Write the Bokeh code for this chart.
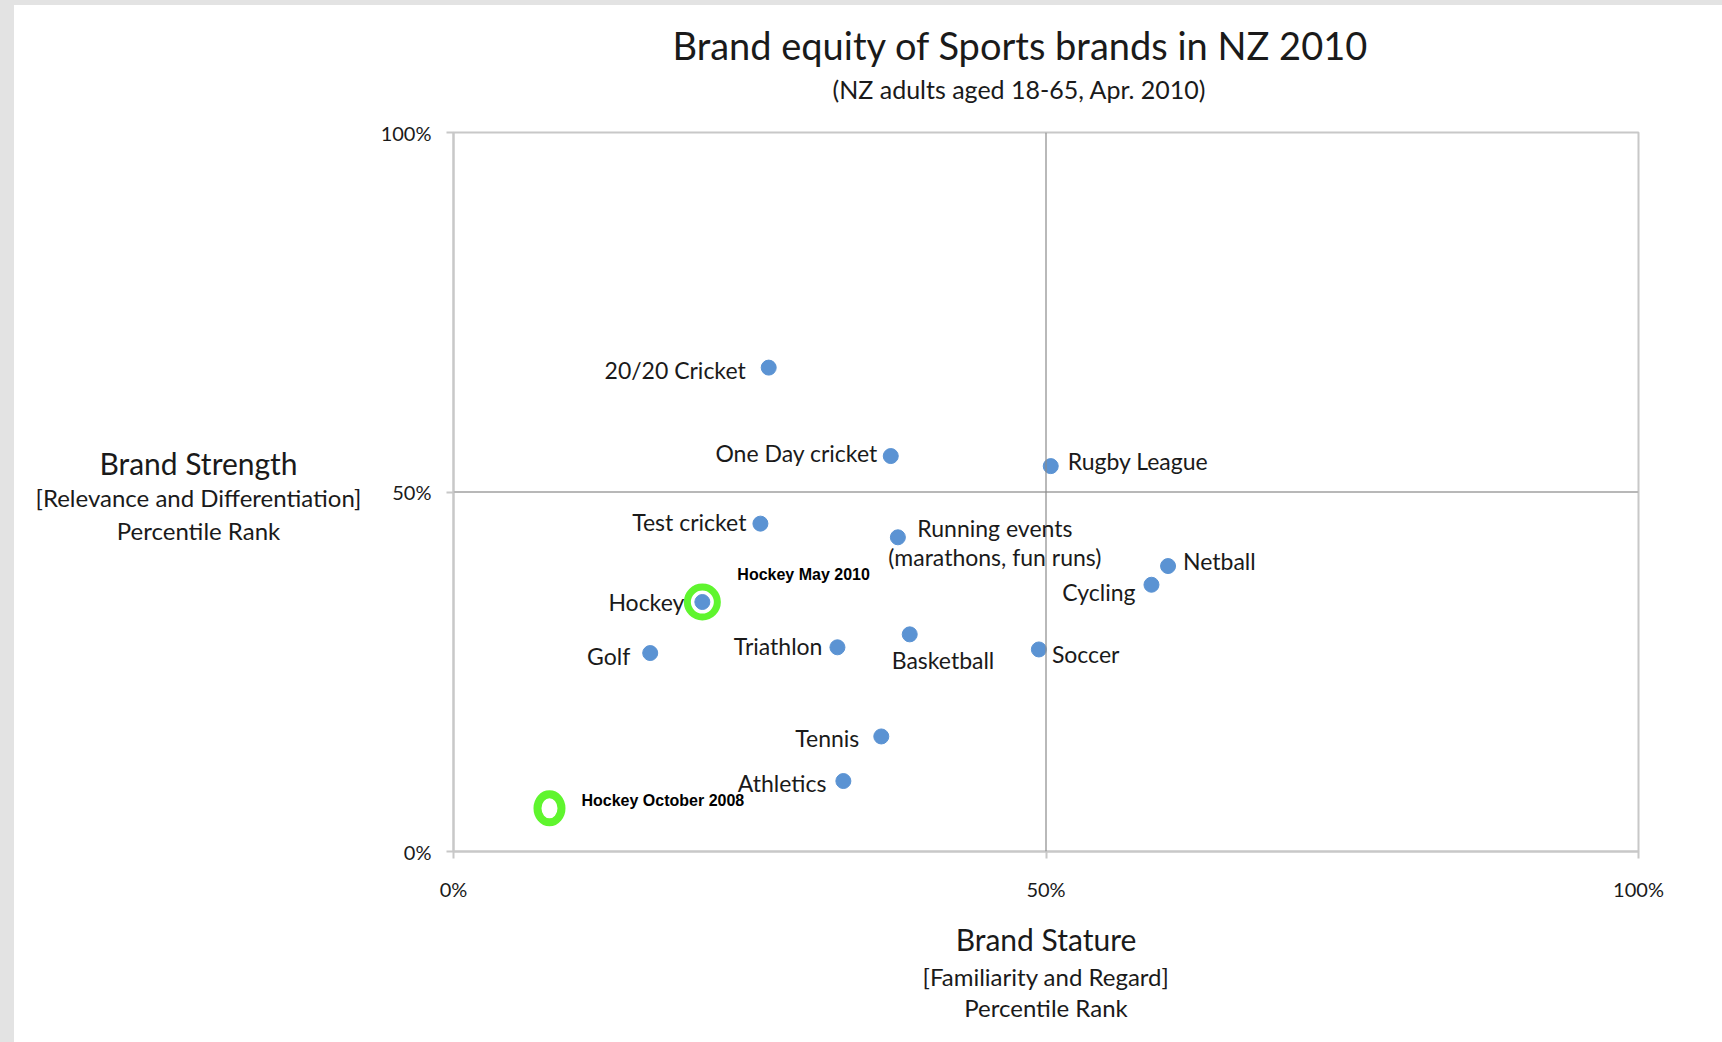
from bokeh.plotting import figure
from bokeh.layouts import row
from bokeh.models import (ColumnDataSource, LabelSet, Span, Range1d,
                          FixedTicker, Title)
from bokeh.core.properties import value
from bokeh.embed import file_html
from bokeh.resources import INLINE

# ---------------- data ----------------
sports = ["20/20 Cricket", "One Day cricket", "Rugby League", "Test cricket",
          "Running events\n(marathons, fun runs)", "Netball", "Cycling",
          "Hockey", "Basketball", "Triathlon", "Soccer", "Golf", "Tennis",
          "Athletics"]
stature = [26.6, 36.9, 50.4, 25.9, 37.5, 60.3, 58.9, 21.0, 38.5, 32.4,
           49.4, 16.6, 36.1, 32.9]
strength = [67.3, 55.0, 53.6, 45.6, 43.7, 39.7, 37.1, 34.7, 30.2, 28.4,
            28.1, 27.6, 16.0, 9.8]

hockey_labels = ["Hockey May 2010", "Hockey October 2008"]
hockey_stature = [21.0, 8.1]
hockey_strength = [34.7, 6.0]

tick_values = [0, 50, 100]
tick_labels = ["0%", "50%", "100%"]

title_text = "Brand equity of Sports brands in NZ 2010"
subtitle_text = "(NZ adults aged 18-65, Apr. 2010)"
y_title = ["Brand Strength", "[Relevance and Differentiation]", "Percentile Rank"]
x_title = ["Brand Stature", "[Familiarity and Regard]", "Percentile Rank"]

# ---------------- label placement (style, pixels; dy = downwards) --------
label_dx = [-23, -13, 17, -14, 97, 15, -16, -18, -18, -15, 13, -20, -22, -17]
label_dy = [2, -3, -5, -2, 5, -5, 7, 0, 26, -1, 5, 3, 2, 2]
label_align = ["right", "right", "left", "right", "center", "left", "right",
               "right", "left", "right", "left", "right", "right", "right"]
LINE_H = 29

W, H = 1708, 1037            # page minus the grey strips (left 14, top 5)
WL = 350                     # width of the side panel holding the y title
LEFT, RIGHT, TOP, BOTTOM = 439 - WL, 84, 127, 191
FH = H - TOP - BOTTOM

FONT = "Lato"
TXT = "#1a1a1a"
BLUE = "#5b93d3"
GREEN = "#5ff52e"

# ---------------- side panel with the y title ----------------
# (its frame is aligned with the main frame by the row layout)
side = figure(width=WL, height=H, output_backend="svg", toolbar_location=None,
              x_range=Range1d(0, WL), y_range=Range1d(TOP + FH, TOP),
              x_axis_type=None, y_axis_type=None,
              min_border=0, min_border_left=0, min_border_right=0,
              min_border_top=TOP, min_border_bottom=BOTTOM)
side.outline_line_color = None
side.background_fill_color = "white"
side.border_fill_color = "white"
side.xgrid.grid_line_color = None
side.ygrid.grid_line_color = None
for txt, size, cy in zip(y_title, ["30px", "24px", "24px"], [457, 492, 525]):
    side.text(x=[184], y=[cy], text=[txt], text_font=value(FONT),
              text_font_size=value(size), text_align="center",
              text_baseline="middle", text_color=TXT)

# ---------------- main chart ----------------
p = figure(width=W - WL, height=H, output_backend="svg",
           toolbar_location=None,
           x_range=Range1d(0, 100), y_range=Range1d(0, 100),
           min_border_left=LEFT, min_border_right=RIGHT,
           min_border_top=TOP, min_border_bottom=BOTTOM)
p.background_fill_color = "white"
p.border_fill_color = "white"
p.outline_line_color = "#c8c8c8"
p.outline_line_width = 2
p.xgrid.grid_line_color = None
p.ygrid.grid_line_color = None

for ax in (p.xaxis[0], p.yaxis[0]):
    ax.ticker = FixedTicker(ticks=tick_values)
    ax.major_label_overrides = {v: l for v, l in zip(tick_values, tick_labels)}
    ax.axis_line_color = "#c8c8c8"
    ax.axis_line_width = 2
    ax.major_tick_line_color = "#c8c8c8"
    ax.major_tick_line_width = 2
    ax.major_tick_in = 0
    ax.major_tick_out = 7
    ax.minor_tick_line_color = None
    ax.major_label_text_font = FONT
    ax.major_label_text_font_size = "20px"
    ax.major_label_text_color = TXT
    ax.axis_label_text_font = FONT
    ax.axis_label_text_font_style = "normal"
    ax.axis_label_text_color = TXT
p.xaxis[0].major_label_standoff = 18
p.yaxis[0].major_label_standoff = 15

# x title: first line as the axis label, the rest as titles below
p.xaxis[0].axis_label = x_title[0]
p.xaxis[0].axis_label_text_font_size = "30px"
p.xaxis[0].axis_label_standoff = 17
for txt in x_title[1:]:
    p.add_layout(Title(text=txt, align="center", standoff=0,
                       text_font=FONT, text_font_size="24px",
                       text_font_style="normal", text_color=TXT), "below")

p.add_layout(Span(location=50, dimension="width", line_color="#b8b8b8",
                  line_width=2))
p.add_layout(Span(location=50, dimension="height", line_color="#8a8a8a",
                  line_width=1.2))

# hockey history rings
p.ellipse(x=[hockey_stature[1]], y=[hockey_strength[1]], width=24, height=28,
          width_units="screen", height_units="screen", fill_color=None,
          line_color=GREEN, line_width=8)
p.scatter(x=[hockey_stature[0]], y=[hockey_strength[0]], size=30,
          fill_color=None, line_color=GREEN, line_width=7)

src = ColumnDataSource(dict(x=stature, y=strength))
p.scatter("x", "y", source=src, size=15, fill_color=BLUE, line_color=BLUE,
          line_width=1)

# label rows (multi-line names split so each line is centred on its own)
lx, ly, lt, ldx, ldy, lal = [], [], [], [], [], []
for name, xv, yv, dx, dy, al in zip(sports, stature, strength, label_dx,
                                    label_dy, label_align):
    lines = name.split("\n")
    n = len(lines)
    for k, line in enumerate(lines):
        off = dy + (k - (n - 1) / 2) * LINE_H
        lx.append(xv); ly.append(yv); lt.append(line)
        ldx.append(dx); ldy.append(-off); lal.append(al)
lsrc = ColumnDataSource(dict(x=lx, y=ly, name=lt, dx=ldx, dy=ldy, align=lal))
p.add_layout(LabelSet(x="x", y="y", text="name", source=lsrc,
                      x_offset="dx", y_offset="dy", text_align="align",
                      text_baseline="middle", text_font=value(FONT),
                      text_font_size=value("23px"), text_color=TXT))

hk_dx = [35, 32]
hk_dy = [28, 8]
hsrc = ColumnDataSource(dict(x=hockey_stature, y=hockey_strength,
                             name=hockey_labels, dx=hk_dx, dy=hk_dy))
p.add_layout(LabelSet(x="x", y="y", text="name", source=hsrc,
                      x_offset="dx", y_offset="dy", text_align="left",
                      text_baseline="middle",
                      text_font=value("Liberation Sans"),
                      text_font_style="bold", text_font_size=value("16px"),
                      text_color="black"))

# ---------------- titles (top): spacer, subtitle, title ----------------
p.add_layout(Title(text=" ", text_color="white", text_font=FONT,
                   text_font_size="22px", standoff=0), "above")
p.add_layout(Title(text=subtitle_text, align="left", offset=379,
                   standoff=0, text_font=FONT, text_font_size="25px",
                   text_font_style="normal", text_color=TXT), "above")
p.add_layout(Title(text=title_text, align="left", offset=219,
                   standoff=8, text_font=FONT, text_font_size="38px",
                   text_font_style="normal", text_color=TXT), "above")

layout = row(side, p)
html = file_html(layout, INLINE)
html = html.replace(
    "</head>",
    "<style>body{border-left:14px solid #e3e3e3;border-top:5px solid #e3e3e3;}"
    "</style></head>", 1)
open("out.html", "w").write(html)
